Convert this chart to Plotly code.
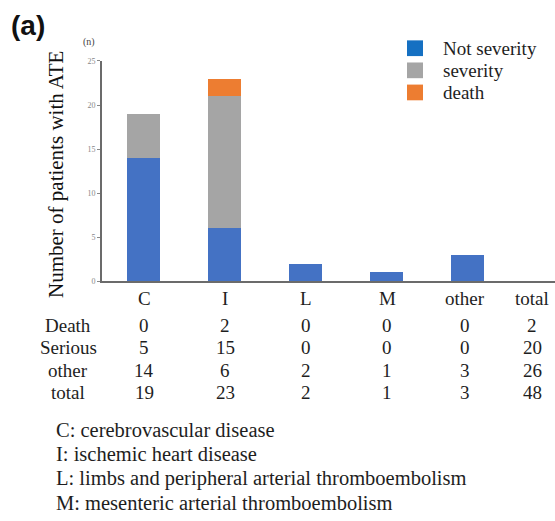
import plotly.graph_objects as go

# ---- data ----
categories = ["C", "I", "L", "M", "other"]
death = [0, 2, 0, 0, 0]
serious = [5, 15, 0, 0, 0]
other = [14, 6, 2, 1, 3]
y_ticks = [0, 5, 10, 15, 20, 25]
legend_names = ["Not severity", "severity", "death"]
row_names = ["Death", "Serious", "other", "total"]
footnotes = [
    "C: cerebrovascular disease",
    "I: ischemic heart disease",
    "L: limbs and peripheral arterial thromboembolism",
    "M: mesenteric arterial thromboembolism",
]

# ---- derived totals for the summary table ----
col_totals = [d + s + o for d, s, o in zip(death, serious, other)]
row_values = [
    death + [sum(death)],
    serious + [sum(serious)],
    other + [sum(other)],
    col_totals + [sum(col_totals)],
]
header = categories + ["total"]

W, H = 555, 521
BLUE, GRAY, ORANGE = "#4472C4", "#A5A5A5", "#ED7D31"
SWATCH = ["#1570C2", "#A5A5A5", "#ED7D31"]
SERIF = "Liberation Serif"


def px(x):
    return x / W


def py(y):
    return 1 - y / H


def label(x, y, text, size=19, anchor="center", **kw):
    font = kw.pop("font", dict(family=SERIF, size=size, color="#1e1e1e"))
    return dict(x=px(x), y=py(y), xref="paper", yref="paper", text=text,
                showarrow=False, xanchor=anchor, yanchor="middle", font=font, **kw)


xi = list(range(len(categories)))
fig = go.Figure()
for name, vals, col in zip(legend_names, [other, serious, death], [BLUE, GRAY, ORANGE]):
    fig.add_trace(go.Bar(x=xi, y=vals, marker=dict(color=col, line=dict(width=0)),
                         width=0.41, name=name, showlegend=False))

fig.update_layout(
    width=W, height=H,
    margin=dict(l=0, r=0, t=0, b=0),
    paper_bgcolor="white", plot_bgcolor="white",
    barmode="stack", bargap=0, showlegend=False,
    font=dict(family=SERIF, color="#222"),
    xaxis=dict(domain=[px(102), 1], range=[-0.514, 5.087], showticklabels=False,
               showgrid=False, zeroline=False, showline=True, linecolor="#6b6b6b",
               linewidth=2, ticks=""),
    yaxis=dict(domain=[py(282), py(58)], range=[0, 25], tickvals=y_ticks,
               showgrid=False, zeroline=False, showline=True, linecolor="#6b6b6b",
               linewidth=2, ticks="outside", ticklen=3, tickcolor="#888",
               tickfont=dict(family=SERIF, size=8, color="#888")),
)

ann = []
shapes = []
# panel tag
ann.append(label(9, 22, "<b>(a)</b>", anchor="left",
                 font=dict(family="Liberation Sans", size=28, color="#111")))
# unit label
ann.append(label(89, 39, "(n)", font=dict(family=SERIF, size=10, color="#444")))
# y-axis title
ann.append(label(56, 174, "Number of patients with ATE", textangle=-90,
                 font=dict(family=SERIF, size=21, color="#111")))

# legend: square swatches with labels
for i, (name, col) in enumerate(zip(legend_names, SWATCH)):
    cy = 45 + 22.5 * i
    shapes.append(dict(type="rect", xref="paper", yref="paper",
                       x0=px(407), x1=px(423), y0=py(cy + 8), y1=py(cy - 8),
                       fillcolor=col, line=dict(width=0)))
    ann.append(label(441, cy, name, anchor="left"))

# summary table below the axis
col_x = [144, 225, 306, 387, 465, 532]
row_y = [327, 350, 373, 395]
for cx, h in zip(col_x, header):
    ann.append(label(cx, 300, h))
for ry, rname, vals in zip(row_y, row_names, row_values):
    ann.append(label(68, ry, rname))
    for cx, v in zip(col_x, vals):
        ann.append(label(cx, ry, str(v)))

# abbreviation key
for i, t in enumerate(footnotes):
    ann.append(label(54, 433 + 25 * i, t, size=20.5, anchor="left"))

fig.update_layout(annotations=ann, shapes=shapes)
fig.write_html("out.html")
